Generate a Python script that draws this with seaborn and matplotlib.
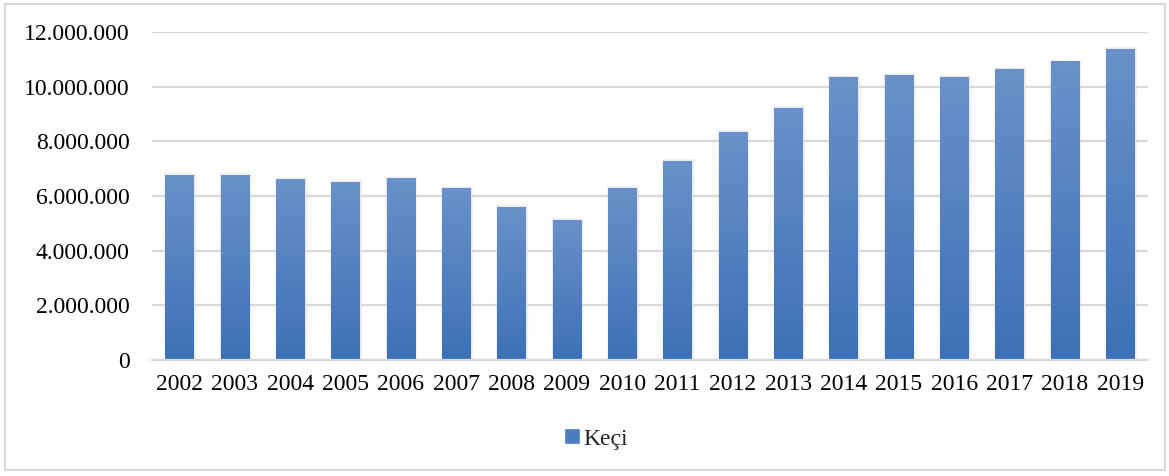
import numpy as np
import matplotlib
matplotlib.use("Agg")
import matplotlib.pyplot as plt
import seaborn as sns
from matplotlib.colors import LinearSegmentedColormap
from matplotlib.patches import Rectangle
from matplotlib.ticker import FuncFormatter

sns.set_style("white")
plt.rcParams['font.family'] = ['Liberation Serif', 'DejaVu Serif']

years = ['2002', '2003', '2004', '2005', '2006', '2007', '2008', '2009', '2010',
         '2011', '2012', '2013', '2014', '2015', '2016', '2017', '2018', '2019']
keci = [6780094, 6772104, 6609937, 6517464, 6643294, 6286358, 5593561, 5128285,
        6293233, 7277953, 8357286, 9225548, 10344936, 10416166, 10345299,
        10634672, 10922427, 11380000]

fig = plt.figure(figsize=(11.69, 4.76), dpi=100)
ax = fig.add_axes([152 / 1169, 1 - 360 / 476, (1148 - 152) / 1169, (360 - 32) / 476])

sns.barplot(x=years, y=keci, color='#4f7fc0', width=0.52, ax=ax, label='Keçi')

ax.set_ylim(0, 12000000)
ax.set_yticks(np.arange(0, 12000001, 2000000))
ax.yaxis.set_major_formatter(FuncFormatter(lambda v, p: f"{int(v):,}".replace(',', '.')))
ax.grid(axis='y', color='#d9d9d9', lw=1.6)
ax.set_axisbelow(True)
for s in ['top', 'right', 'left']:
    ax.spines[s].set_visible(False)
ax.spines['bottom'].set_color('#d9d9d9')
ax.spines['bottom'].set_linewidth(1.6)
ax.tick_params(axis='both', length=0, labelsize=17, colors='black')
ax.tick_params(axis='y', pad=16)
ax.tick_params(axis='x', pad=10)

# gradient fill + soft shadow on each bar
cmap = LinearSegmentedColormap.from_list('g', ['#3c71b7', '#6a91c9'])
grad = np.linspace(0, 1, 256).reshape(-1, 1)
for bar in list(ax.patches):
    x, y = bar.get_x(), bar.get_y()
    w, h = bar.get_width(), bar.get_height()
    for k, a in [(0.08, 0.04), (0.05, 0.06), (0.025, 0.08)]:
        ax.add_patch(Rectangle((x - k * 0.3, y), w + k, h + k * 1.2e6, color='#808080',
                               alpha=a, lw=0, zorder=1.5))
    im = ax.imshow(grad, extent=[x, x + w, y, y + h], origin='lower', cmap=cmap,
                   aspect='auto', zorder=2.5)
    im.set_clip_path(bar)
ax.set_xlim(-0.5, len(years) - 0.5)
ax.set_ylim(0, 12000000)

leg = ax.legend(loc='center', bbox_to_anchor=(596 / 1169, 1 - 439 / 476),
                bbox_transform=fig.transFigure, frameon=False, fontsize=17,
                handlelength=0.65, handleheight=0.65, handletextpad=0.15)
leg.legend_handles[0].set_facecolor('#4a7dc0')

fig.patches.append(Rectangle((5 / 1169, 6 / 476), 1160 / 1169, 466 / 476, transform=fig.transFigure,
                             fill=False, edgecolor='#d9d9d9', lw=1.5))

fig.savefig('out.png', dpi=100)
